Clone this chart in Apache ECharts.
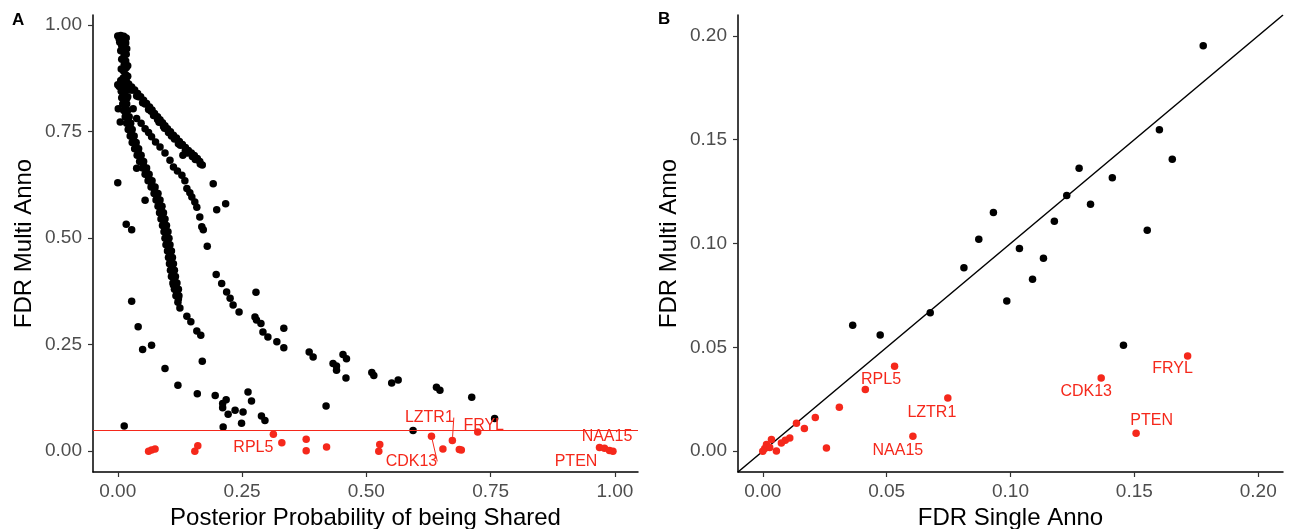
<!DOCTYPE html>
<html><head><meta charset="utf-8">
<script src="https://cdn.jsdelivr.net/npm/echarts@6/dist/echarts.min.js"></script>
<style>html,body{margin:0;padding:0;background:#fff}#c{width:1290px;height:529px}</style>
</head><body><div id="c"></div>
<script>
// ---------------- DATA ----------------
// Panel A: x = Posterior Probability of being Shared, y = FDR Multi Anno
const stemA = [[0.000,0.975],[0.006,0.976],[0.012,0.974],[0.017,0.970],[0.003,0.967],[0.010,0.964],[0.016,0.958],[0.004,0.960],[0.008,0.952],[0.014,0.946],[0.018,0.945],[0.006,0.940],[0.011,0.938],[0.017,0.932],[0.012,0.924],[0.008,0.920],[0.016,0.916],[0.013,0.908],[0.020,0.905],[0.017,0.900],[0.007,0.897],[0.012,0.892],[0.016,0.884],[0.020,0.880],[0.011,0.876],[0.017,0.870],[0.006,0.870],[0.008,0.862],[0.018,0.862],[0.014,0.858],[0.003,0.856],[0.000,0.860],[0.020,0.852],[0.010,0.850]];
const mainBandA = [[0.007,0.845],[0.015,0.845],[0.008,0.830],[0.016,0.830],[0.010,0.815],[0.018,0.815],[0.012,0.800],[0.020,0.800],[0.015,0.785],[0.023,0.785],[0.018,0.770],[0.026,0.770],[0.021,0.755],[0.029,0.755],[0.025,0.740],[0.033,0.740],[0.029,0.725],[0.037,0.725],[0.034,0.710],[0.042,0.710],[0.039,0.695],[0.047,0.695],[0.044,0.680],[0.052,0.680],[0.050,0.665],[0.058,0.665],[0.055,0.650],[0.063,0.650],[0.061,0.635],[0.069,0.635],[0.067,0.620],[0.075,0.620],[0.073,0.605],[0.081,0.605],[0.077,0.590],[0.085,0.590],[0.081,0.575],[0.089,0.575],[0.084,0.560],[0.092,0.560],[0.087,0.545],[0.095,0.545],[0.090,0.530],[0.098,0.530],[0.093,0.515],[0.101,0.515],[0.095,0.500],[0.103,0.500],[0.097,0.485],[0.105,0.485],[0.100,0.470],[0.108,0.470],[0.102,0.455],[0.110,0.455],[0.104,0.440],[0.112,0.440],[0.106,0.425],[0.114,0.425],[0.108,0.410],[0.116,0.410],[0.111,0.395],[0.119,0.395],[0.114,0.380],[0.122,0.380],[0.117,0.365],[0.123,0.365],[0.121,0.350],
 [0.011,0.838],[0.013,0.823],[0.015,0.808],[0.017,0.793],[0.021,0.778],[0.024,0.763],[0.027,0.748],[0.031,0.733],[0.036,0.718],[0.041,0.703],[0.046,0.688],[0.051,0.673],[0.057,0.658],[0.062,0.643],[0.068,0.628],[0.074,0.613],[0.079,0.598],[0.083,0.583],[0.087,0.568],[0.090,0.553],[0.093,0.538],[0.096,0.523],[0.098,0.508],[0.100,0.493],[0.103,0.478],[0.105,0.463],[0.107,0.448],[0.109,0.433],[0.111,0.418],[0.114,0.403],[0.117,0.388],[0.119,0.373],[0.122,0.358],
 [0.112,0.390],[0.119,0.368],[0.125,0.336],[0.139,0.317],[0.147,0.304],[0.159,0.282],[0.167,0.272]];
const upperBranchA = [[0.022,0.862],[0.028,0.855],[0.034,0.848],[0.040,0.840],[0.046,0.832],[0.052,0.824],[0.058,0.816],[0.064,0.808],[0.069,0.801],[0.074,0.793],[0.080,0.785],[0.085,0.778],[0.090,0.771],[0.095,0.764],[0.100,0.757],[0.106,0.750],[0.112,0.742],[0.118,0.735],[0.124,0.727],[0.130,0.720],[0.136,0.713],[0.142,0.706],[0.148,0.700],[0.154,0.694],[0.160,0.687],[0.165,0.680],[0.170,0.672],
 [0.030,0.848],[0.042,0.832],[0.055,0.815],[0.067,0.798],[0.080,0.779],[0.094,0.758],[0.108,0.740],[0.122,0.722],[0.136,0.706],[0.150,0.692],
 [0.026,0.848],[0.038,0.834],[0.050,0.818],[0.062,0.802],[0.072,0.788],[0.083,0.772],[0.092,0.762],[0.102,0.748],[0.114,0.733],[0.126,0.718],[0.140,0.700],[0.156,0.685],[0.166,0.674]];
const middleBranchA = [[0.018,0.828],[0.031,0.804],[0.038,0.781],[0.047,0.770],[0.055,0.757],[0.062,0.748],[0.068,0.738],[0.076,0.726],[0.085,0.714],[0.095,0.700],[0.105,0.683],[0.112,0.667],[0.120,0.658],[0.129,0.648],[0.135,0.635],[0.139,0.617],[0.145,0.607],[0.149,0.597],[0.155,0.585],[0.159,0.573],[0.165,0.550],[0.169,0.527],[0.172,0.520],[0.180,0.481]];
const scatterBlackA = [[0.000,0.630],[0.001,0.804],[0.005,0.773],[0.020,0.832],[0.038,0.664],[0.055,0.589],[0.017,0.533],[0.028,0.520],[0.131,0.695],[0.192,0.628],[0.199,0.567],[0.217,0.581],[0.028,0.352],[0.041,0.292],[0.050,0.239],[0.068,0.249],[0.095,0.194],[0.121,0.155],[0.160,0.135],[0.170,0.211],[0.013,0.059],
 [0.198,0.415],[0.209,0.394],[0.219,0.374],[0.226,0.359],[0.232,0.343],[0.244,0.327],[0.278,0.373],[0.276,0.315],[0.279,0.308],[0.288,0.300],[0.292,0.280],[0.302,0.268],[0.320,0.257],[0.334,0.289],[0.334,0.243],[0.385,0.233],[0.393,0.221],[0.419,0.106],[0.433,0.206],[0.440,0.200],[0.440,0.190],[0.453,0.227],[0.460,0.217],[0.459,0.172],[0.511,0.185],[0.515,0.178],[0.551,0.160],[0.564,0.167],[0.594,0.049],[0.641,0.150],[0.648,0.143],[0.712,0.127],[0.758,0.077],
 [0.196,0.131],[0.211,0.112],[0.211,0.102],[0.218,0.121],[0.222,0.087],[0.236,0.096],[0.252,0.092],[0.249,0.066],[0.262,0.139],[0.269,0.118],[0.289,0.083],[0.296,0.072],[0.212,0.057]];
// red (significant) genes in A: [x, y, gene label]
const redA = [[0.062,0.000,''],[0.068,0.003,''],[0.075,0.005,''],[0.155,0.000,''],[0.161,0.013,''],[0.313,0.040,'RPL5'],[0.330,0.020,''],[0.379,0.028,''],[0.379,0.001,''],[0.420,0.010,''],[0.525,0.000,''],[0.527,0.016,''],[0.631,0.035,'CDK13'],[0.654,0.005,''],[0.673,0.025,'LZTR1'],[0.687,0.004,''],[0.691,0.003,''],[0.724,0.045,'FRYL'],[0.969,0.009,'PTEN'],[0.979,0.007,'NAA15'],[0.989,0.002,''],[0.996,0.000,'']];
const fdrThreshold = 0.05;
const ticksA = [0, 0.25, 0.5, 0.75, 1.0];

// Panel B: x = FDR Single Anno, y = FDR Multi Anno
const blackB = [[0.1778,0.1952],[0.1601,0.1548],[0.1653,0.1405],[0.1277,0.1362],[0.1411,0.1317],[0.1227,0.1231],[0.1323,0.1189],[0.1177,0.1107],[0.1552,0.1064],[0.0931,0.1149],[0.0872,0.1021],[0.1036,0.0976],[0.1133,0.0929],[0.0812,0.0883],[0.1089,0.0828],[0.0985,0.0723],[0.1456,0.0510],[0.0676,0.0667],[0.0363,0.0607],[0.0474,0.0559]];
const redB = [[0.1715,0.0458,'FRYL'],[0.1366,0.0352,'CDK13'],[0.1507,0.0087,'PTEN'],[0.0532,0.0409,'RPL5'],[0.0414,0.0297,''],[0.0747,0.0256,'LZTR1'],[0.0606,0.0072,'NAA15'],[0.0309,0.0212,''],[0.0212,0.0162,''],[0.0168,0.0109,''],[0.0136,0.0135,''],[0.0257,0.0016,''],[0.0109,0.0064,''],[0.0091,0.0053,''],[0.0075,0.0040,''],[0.0055,0.0001,''],[0.0035,0.0056,''],[0.0015,0.0032,''],[0.0008,0.0013,''],[0.0000,0.0000,''],[0.0028,0.0018,'']];
const limitsB = [-0.01, 0.21];
const ticksB = [0, 0.05, 0.10, 0.15, 0.20];

// ---------------- STYLE ----------------
const RED = '#F5281B';
const FONT = '"Liberation Sans", Arial, Helvetica, sans-serif';
const labelOffsetA = {RPL5:[-20,13.5], CDK13:[-20,25], LZTR1:[-23,-23], FRYL:[6,-6.5], NAA15:[2.5,-12], PTEN:[-23.5,13.7]};
const labelLinkA = ['CDK13','LZTR1'];
const labelOffsetB = {RPL5:[-13.5,13], LZTR1:[-16,15], NAA15:[-15,14], CDK13:[-15,13], FRYL:[-15,13], PTEN:[15.6,-12.7]};
const PT = 7.5;

const blackA = [].concat(stemA, mainBandA, upperBranchA, middleBranchA, scatterBlackA);

function redItems(arr, links) {
  return arr.map(d => {
    const it = {value: [d[0], d[1]], name: d[2]};
    if (d[2]) {
      it.label = {show: true};
      if (links && links.includes(d[2])) it.labelLine = {show: true, lineStyle: {color: RED, width: 1}};
    }
    return it;
  });
}
function layoutFn(arr, offs) {
  return function (p) {
    const n = arr[p.dataIndex] && arr[p.dataIndex][2];
    const o = offs[n] || [0, 0];
    return {dx: o[0], dy: o[1]};
  };
}

const axisCommon = {
  type: 'value',
  splitLine: {show: false},
  axisLine: {show: true, onZero: false, lineStyle: {color: '#000', width: 1.5}},
  axisTick: {show: true, length: 5, lineStyle: {color: '#333', width: 1.2}},
  nameLocation: 'middle',
  nameTextStyle: {color: '#000', fontSize: 24, fontFamily: FONT}
};
function xAx(idx, min, max, ticks, name) {
  return Object.assign({}, axisCommon, {
    gridIndex: idx, min: min, max: max, name: name, nameGap: 34,
    axisTick: Object.assign({}, axisCommon.axisTick, {customValues: ticks}),
    axisLabel: {customValues: ticks, color: '#4D4D4D', fontSize: 19, fontFamily: FONT, margin: 10, formatter: v => v.toFixed(2)}
  });
}
function yAx(idx, min, max, ticks, name) {
  return Object.assign({}, axisCommon, {
    gridIndex: idx, min: min, max: max, name: name, nameGap: 57,
    axisTick: Object.assign({}, axisCommon.axisTick, {customValues: ticks}),
    axisLabel: {customValues: ticks, color: '#4D4D4D', fontSize: 19, fontFamily: FONT, margin: 11, formatter: v => v.toFixed(2)}
  });
}

const chart = echarts.init(document.getElementById('c'), null, {renderer: 'canvas'});
chart.setOption({
  animation: false,
  backgroundColor: '#fff',
  title: [
    {text: 'A', left: 12, top: 12, padding: 0, textStyle: {fontSize: 17, fontWeight: 'bold', fontFamily: FONT, color: '#000'}},
    {text: 'B', left: 658, top: 11, padding: 0, textStyle: {fontSize: 17, fontWeight: 'bold', fontFamily: FONT, color: '#000'}}
  ],
  grid: [
    {left: 93, top: 15, width: 545, height: 457, containLabel: false, outerBoundsMode: 'none'},
    {left: 738, top: 15, width: 545, height: 457, containLabel: false, outerBoundsMode: 'none'}
  ],
  xAxis: [
    xAx(0, -0.0498, 1.0464, ticksA, 'Posterior Probability of being Shared'),
    xAx(1, limitsB[0], limitsB[1], ticksB, 'FDR Single Anno')
  ],
  yAxis: [
    yAx(0, -0.0487, 1.0240, ticksA, 'FDR Multi Anno'),
    yAx(1, limitsB[0], limitsB[1], ticksB, 'FDR Multi Anno')
  ],
  series: [
    {type: 'scatter', xAxisIndex: 0, yAxisIndex: 0, symbolSize: PT, itemStyle: {color: '#000', opacity: 1}, data: blackA, z: 2},
    {type: 'scatter', xAxisIndex: 0, yAxisIndex: 0, symbolSize: PT, itemStyle: {color: RED, opacity: 1}, z: 3,
      data: redItems(redA, labelLinkA),
      label: {show: false, position: 'inside', formatter: '{b}', color: RED, fontSize: 16, fontFamily: FONT},
      labelLayout: layoutFn(redA, labelOffsetA),
      markLine: {silent: true, symbol: 'none', label: {show: false}, lineStyle: {color: RED, width: 1.2, type: 'solid'}, data: [{yAxis: fdrThreshold}]}
    },
    {type: 'line', xAxisIndex: 1, yAxisIndex: 1, showSymbol: false, symbol: 'none', lineStyle: {color: '#000', width: 1.5}, z: 1,
      data: [[limitsB[0], limitsB[0]], [limitsB[1], limitsB[1]]]},
    {type: 'scatter', xAxisIndex: 1, yAxisIndex: 1, symbolSize: PT, itemStyle: {color: '#000', opacity: 1}, data: blackB, z: 2},
    {type: 'scatter', xAxisIndex: 1, yAxisIndex: 1, symbolSize: PT, itemStyle: {color: RED, opacity: 1}, z: 3,
      data: redItems(redB, null),
      label: {show: false, position: 'inside', formatter: '{b}', color: RED, fontSize: 16, fontFamily: FONT},
      labelLayout: layoutFn(redB, labelOffsetB)
    }
  ]
});
</script></body></html>
